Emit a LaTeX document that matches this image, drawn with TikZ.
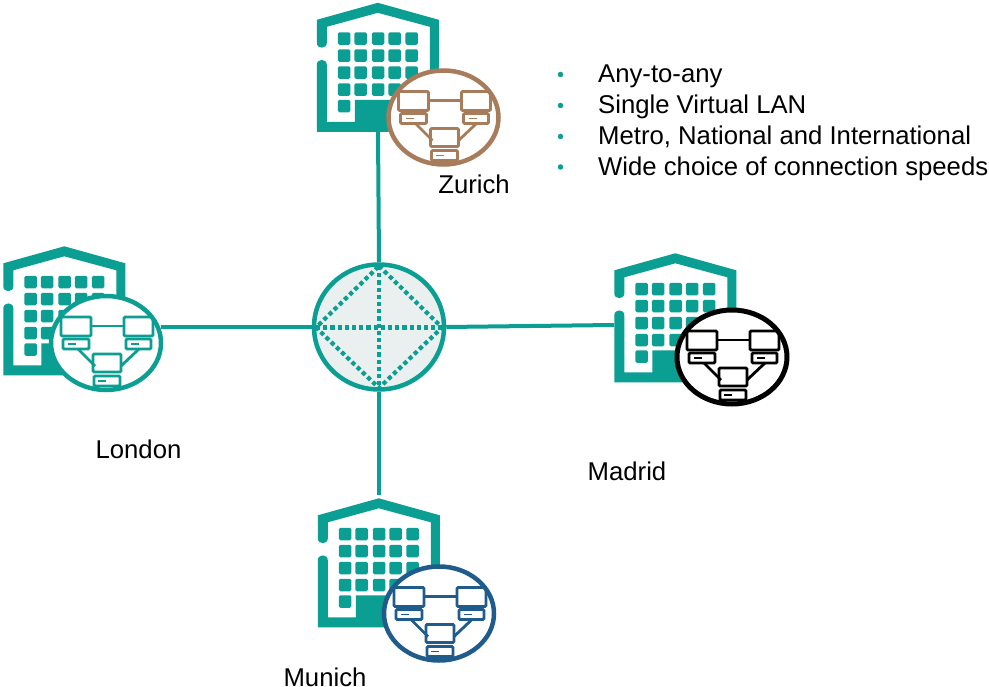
\documentclass[tikz,border=0pt]{standalone}
\usepackage{fontspec}
\setmainfont{Liberation Sans}
\usetikzlibrary{shapes.geometric}
\definecolor{teal1}{HTML}{0B9E92}
\definecolor{hubfill}{HTML}{E9F0EF}
\definecolor{lanbrown}{HTML}{A87C5B}
\definecolor{lanblue}{HTML}{1F5C8B}
\tikzset{
  bldgbox/.style={rectangle,inner sep=0pt,minimum width=122pt,minimum height=129pt},
  lancirc/.style={ellipse,draw=#1,fill=white,line width=4.5pt,inner sep=0pt,minimum width=110pt,minimum height=94pt},
  hubcirc/.style={ellipse,draw=teal1,fill=hubfill,line width=4.5pt,inner sep=0pt,minimum width=130pt,minimum height=125pt},
  link/.style={draw=teal1,line width=4pt},
  dots/.style={draw=teal1,line width=4.2pt,dash pattern=on 4.2pt off 3pt},
  lbl/.style={inner sep=0pt,anchor=base,font=\fontsize{25.7}{30}\selectfont,text=black},
  item/.style={inner sep=0pt,anchor=base west,font=\fontsize{25.7}{30}\selectfont,text=black},
  bul/.style={circle,fill=teal1,inner sep=0pt,minimum size=5.5pt},
  pics/building/.style={code={
    \fill[teal1] (0,17) -- (61,0) -- (122,17) -- (122,129) -- (0,129) -- (0,62)
      .. controls (0,55.5) and (10,55.5) .. (10,62) -- (10,119) -- (38,119) -- (38,97) -- (113,97)
      -- (113,24) -- (61,10) -- (10,24) -- (10,40)
      .. controls (10,46.5) and (0,46.5) .. (0,40) -- cycle;
    \foreach \yy in {29.5,46.5,63.5,80.5} \foreach \xx in {21,37.5,55,71.5,88.5}
      \fill[teal1,rounded corners=1.5pt] (\xx,\yy) rectangle ++(12.5,12.5);
    \fill[teal1,rounded corners=1.5pt] (21,97) rectangle ++(12.5,12.5);
  }},
  pics/langlyph/.style={code={
    \begin{scope}[draw=#1,line width=2.8pt,rounded corners=1.2pt]
      \draw (-45,-26) rectangle (-15,-7);
      \draw (-43,-4) rectangle (-17,6);
      \draw[line width=1.5pt] (-38,1) -- (-30,1);
      \draw (18,-26) rectangle (47,-7);
      \draw (20,-4) rectangle (45,6);
      \draw[line width=1.5pt] (25,1) -- (33,1);
      \draw (-13,11) rectangle (15,29);
      \draw (-12,33) rectangle (14,43);
      \draw[line width=1.5pt] (-8,38) -- (0,38);
      \draw (-15,-17) -- (18,-17);
      \draw (-28,6) -- (-11,23);
      \draw (33,6) -- (15,23);
    \end{scope}
  }}
}
\begin{document}
\begin{tikzpicture}[x=1pt,y=-1pt]
\useasboundingbox (0,0) rectangle (989,687);
\fill[white] (0,0) rectangle (989,687);
% buildings
\node[bldgbox] (zurich) at (378,67.5) {};
\node[bldgbox] (london) at (64.5,311) {};
\node[bldgbox] (madrid) at (675.5,318) {};
\node[bldgbox] (munich) at (379,563) {};
\pic at (zurich.north west) {building};
\pic at (london.north west) {building};
\pic at (madrid.north west) {building};
\pic at (munich.north west) {building};
% LAN circles
\node[lancirc=lanbrown] (lanZ) at (443.5,117.5) {};
\node[lancirc=teal1] (lanL) at (106,343) {};
\node[lancirc=black,line width=5pt] (lanD) at (732,357) {};
\node[lancirc=lanblue] (lanM) at (439,613.5) {};
\pic at (lanZ) {langlyph=lanbrown};
\pic at (lanL) {langlyph=teal1};
\pic at (lanD) {langlyph=black};
\pic at (lanM) {langlyph=lanblue};
% hub
\node[hubcirc] (hub) at (379,327) {};
\coordinate (hN) at (379,266);
\coordinate (hS) at (379,388);
\coordinate (hW) at (316,327.5);
\coordinate (hE) at (442,327.5);
\draw[dots] (hN) -- (hS);
\draw[dots] (hW) -- (hE);
\draw[dots] (hN) -- (hE) -- (hS) -- (hW) -- cycle;
% connectors
\coordinate (londonport) at (161,327);
\coordinate (madridport) at (614,325);
\coordinate (munichport) at (379,495);
\draw[link] (hub.north) -- (zurich.south);
\draw[link] (hub.west) -- (londonport);
\draw[link] (hub.east) -- (madridport);
\draw[link] (hub.south) -- (munichport);
% labels
\node[lbl] (tZ) at (474,194) {Zurich};
\node[lbl] (tL) at (138.5,458) {London};
\node[lbl] (tD) at (627,480) {Madrid};
\node[lbl] (tM) at (325,686) {Munich};
% bullet list
\node[bul] (b1) at (560.5,74.5) {};
\node[bul] (b2) at (560.5,105.5) {};
\node[bul] (b3) at (560.5,136.5) {};
\node[bul] (b4) at (560.5,167) {};
\node[item] (i1) at (598,83) {Any-to-any};
\node[item] (i2) at (598,114) {Single Virtual LAN};
\node[item] (i3) at (598,145) {Metro, National and International};
\node[item] (i4) at (598,176) {Wide choice of connection speeds};
\end{tikzpicture}
\end{document}
